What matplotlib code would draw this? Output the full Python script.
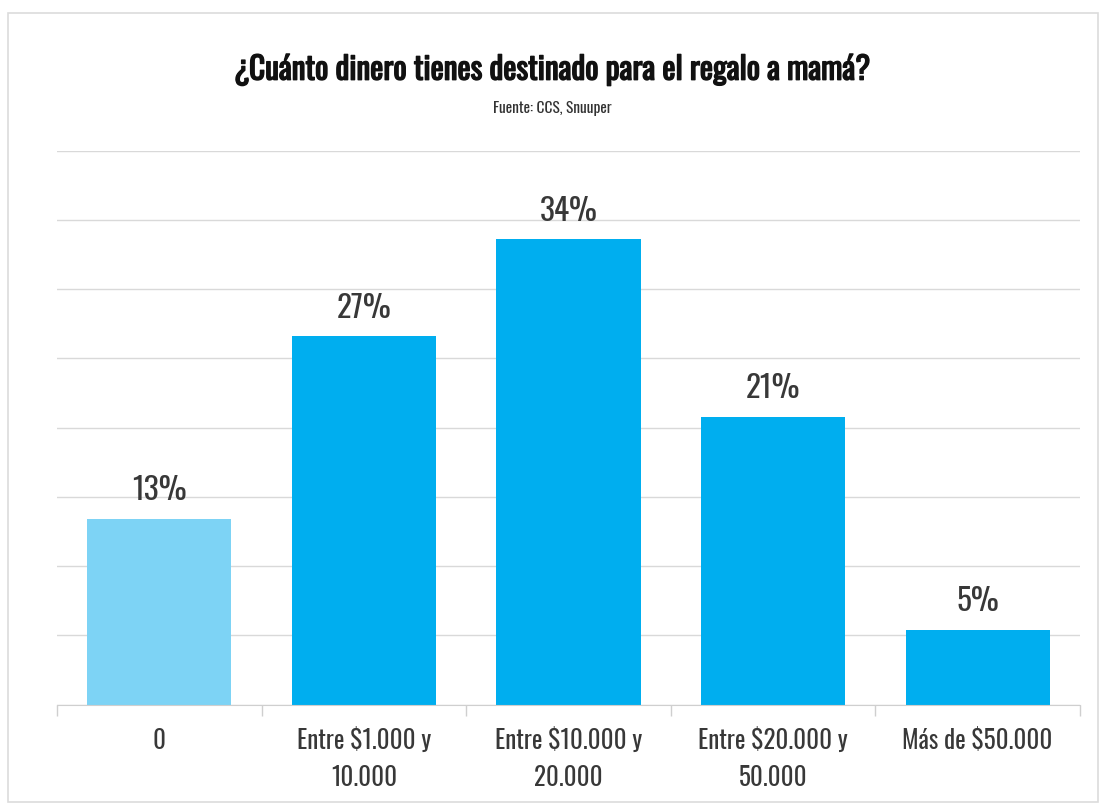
import matplotlib.pyplot as plt
import matplotlib.patches as patches
import matplotlib.patheffects as pe
import numpy as np

plt.rcParams['font.family'] = ['Oswald', 'Roboto Condensed', 'DejaVu Sans']

# datos
categorias = ["0", "Entre $1.000 y\n10.000", "Entre $10.000 y\n20.000",
              "Entre $20.000 y\n50.000", "Más de $50.000"]
porcentajes = [13.4, 26.6, 33.6, 20.8, 5.4]
etiquetas = ["13%", "27%", "34%", "21%", "5%"]
colores = ["#7dd3f5", "#00aeef", "#00aeef", "#00aeef", "#00aeef"]

fig = plt.figure(figsize=(11.02, 8.07), dpi=100)
fig.patch.set_facecolor("white")

# marco exterior
fig.add_artist(patches.Rectangle((0.007, 0.006), 0.989, 0.978, transform=fig.transFigure,
                                 fill=False, edgecolor="#dcdcdc", linewidth=1.2))

ax = fig.add_axes([0.0517, 0.127, 0.9283, 0.6863])
x = np.arange(len(categorias))
bars = ax.bar(x, porcentajes, width=0.705, color=colores, zorder=2)

for b, v, t in zip(bars, porcentajes, etiquetas):
    ax.annotate(t, (b.get_x() + b.get_width() / 2, v), xytext=(0, 9),
                textcoords="offset points", ha="center", va="bottom",
                fontsize=22.5, color="#383838", fontweight="light")

ax.set_xlim(-0.5, len(categorias) - 0.5)
ax.set_ylim(0, 40)
ax.set_yticks(np.arange(0, 41, 5))
ax.yaxis.grid(True, color="#d9d9d9", linewidth=1, zorder=0)
ax.tick_params(axis="y", left=False, labelleft=False)

ax.set_xticks(x)
ax.set_xticklabels(categorias, fontsize=18, color="#383838", linespacing=1.5,
                   fontweight="light")
ax.tick_params(axis="x", which="major", length=0, pad=17)
ax.set_xticks(np.arange(-0.5, len(categorias), 1), minor=True)
ax.tick_params(axis="x", which="minor", length=8, color="#cfcfcf", width=1)

for s in ["top", "right", "left"]:
    ax.spines[s].set_visible(False)
ax.spines["bottom"].set_color("#cfcfcf")

# titulo y fuente
fig.text(0.501, 0.913, "¿Cuánto dinero tienes destinado para el regalo a mamá?",
         ha="center", va="center", fontsize=22.5, fontweight="bold", color="#111111",
         path_effects=[pe.withStroke(linewidth=1.0, foreground="#111111")])
fig.text(0.501, 0.866, "Fuente: CCS, Snuuper", ha="center", va="center",
         fontsize=11, color="#333333", fontweight="light")

fig.savefig("out.png", dpi=100)
